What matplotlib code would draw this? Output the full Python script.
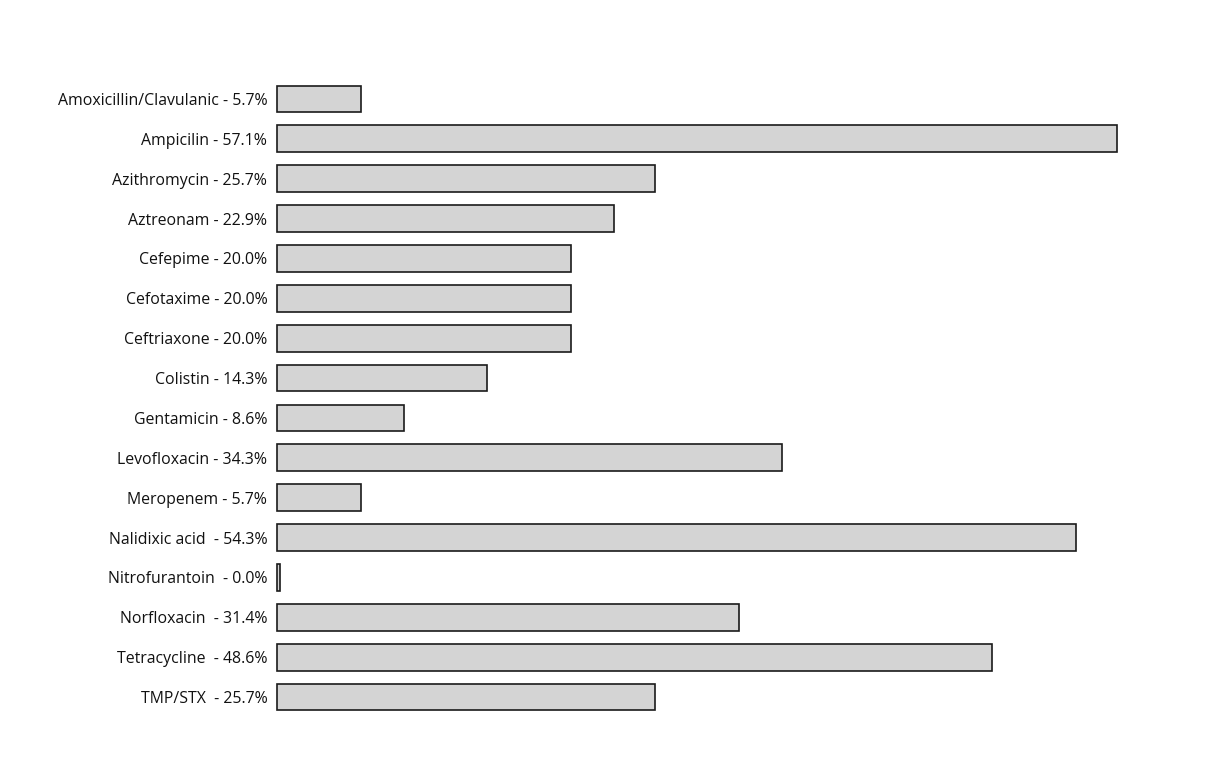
import matplotlib.pyplot as plt

drugs = ["Amoxicillin/Clavulanic", "Ampicilin", "Azithromycin", "Aztreonam",
         "Cefepime", "Cefotaxime", "Ceftriaxone", "Colistin", "Gentamicin",
         "Levofloxacin", "Meropenem", "Nalidixic acid ", "Nitrofurantoin ",
         "Norfloxacin ", "Tetracycline ", "TMP/STX "]
resistance = [5.7, 57.1, 25.7, 22.9, 20.0, 20.0, 20.0, 14.3, 8.6,
              34.3, 5.7, 54.3, 0.0, 31.4, 48.6, 25.7]

labels = [d + " - " + "%.1f%%" % v for d, v in zip(drugs, resistance)]
# keep the 0% bar visible as a thin sliver, like the original
widths = [max(v, 0.2) for v in resistance]

fig = plt.figure(figsize=(12.07, 7.68), dpi=100)
ax = fig.add_axes([0.2295, 0.0664, 0.7313, 0.8307])

ys = list(range(len(drugs)))
bars = ax.barh(ys, widths, height=0.67, color="#d4d4d4", edgecolor="#1a1a1a", linewidth=1.2)
for b in bars:
    b.set_clip_on(False)

ax.set_yticks(ys)
ax.set_yticklabels(labels, fontsize=11.4, family="Open Sans", color="#111111")
ax.set_xlim(0, 60)
ax.set_ylim(len(drugs) - 0.5, -0.5)
ax.tick_params(axis="y", length=0, pad=7)
ax.set_xticks([])
for s in ax.spines.values():
    s.set_visible(False)

fig.savefig("out.png", dpi=100, facecolor="white")
